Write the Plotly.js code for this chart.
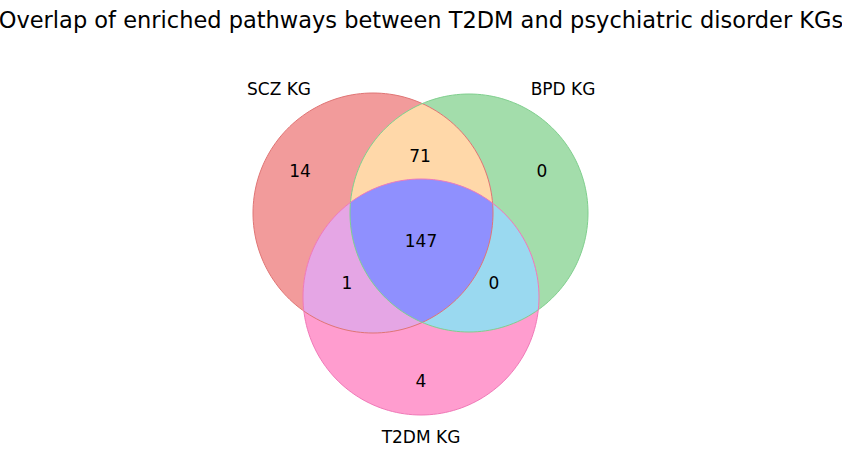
<!DOCTYPE html>
<html><head><meta charset="utf-8">
<script src="https://cdn.plot.ly/plotly-3.0.1.min.js"></script>
<style>body{margin:0;background:#fff}</style></head>
<body><div id="chart" style="width:842px;height:453px"></div>
<script>
// Data
const setNames = ["SCZ KG", "BPD KG", "T2DM KG"];
const regionKeys = ["100", "010", "110", "001", "101", "011", "111"];
const regionCounts = [14, 0, 71, 4, 1, 0, 147];

// Geometry (pixel-like layout units)
const circles = [{x:373,y:213,r:120},{x:469,y:213,r:119},{x:421,y:297,r:118}];
const fillColors = ["#f29b9b","#a3ddab","#ff9dcf"];
const edgeColors = ["#e07575","#80cf8e","#f07ab8"];
const regionColors = {"110":"#ffd8a9","101":"#e5a6e5","011":"#9ad9f0","111":"#8f90fe"};
const labelPos = {"100":[300,173],"010":[542,173],"110":[420,158],"001":[421,383],"101":[347,285],"011":[494,285],"111":[421,243]};
const setLabelPos = [[279,91],[563,91],[421,439]];

function circlePath(c){
  const n=180; let p="";
  for(let i=0;i<=n;i++){const a=2*Math.PI*i/n;p+=(i?"L":"M")+(c.x+c.r*Math.cos(a)).toFixed(2)+","+(c.y+c.r*Math.sin(a)).toFixed(2);}
  return p+"Z";
}
function intersectPath(idx){
  const pts=[];
  idx.forEach(i=>{const c=circles[i];
    for(let k=0;k<720;k++){const a=2*Math.PI*k/720;const px=c.x+c.r*Math.cos(a),py=c.y+c.r*Math.sin(a);
      if(idx.every(j=>j===i||Math.hypot(px-circles[j].x,py-circles[j].y)<=circles[j].r+1e-6))pts.push([px,py]);}});
  const mx=pts.reduce((s,p)=>s+p[0],0)/pts.length,my=pts.reduce((s,p)=>s+p[1],0)/pts.length;
  pts.sort((a,b)=>Math.atan2(a[1]-my,a[0]-mx)-Math.atan2(b[1]-my,b[0]-mx));
  return pts.map((p,i)=>(i?"L":"M")+p[0].toFixed(2)+","+p[1].toFixed(2)).join("")+"Z";
}
const shapes=[];
circles.forEach((c,i)=>shapes.push({type:"path",path:circlePath(c),fillcolor:fillColors[i],line:{width:0},layer:"below"}));
[["110",[0,1]],["101",[0,2]],["011",[1,2]],["111",[0,1,2]]].forEach(([k,idx])=>
  shapes.push({type:"path",path:intersectPath(idx),fillcolor:regionColors[k],line:{width:0},layer:"below"}));
circles.forEach((c,i)=>shapes.push({type:"path",path:circlePath(c),fillcolor:"rgba(0,0,0,0)",line:{width:1,color:edgeColors[i]},layer:"below"}));

const font={family:"DejaVu Sans",size:17,color:"#000"};
const traces=[{
  type:"scatter",mode:"text",
  x:regionKeys.map(k=>labelPos[k][0]),y:regionKeys.map(k=>labelPos[k][1]),
  text:regionCounts.map(String),textfont:font,hoverinfo:"skip"
},{
  type:"scatter",mode:"text",
  x:setLabelPos.map(p=>p[0]),y:setLabelPos.map(p=>p[1]),
  text:setNames,textfont:font,hoverinfo:"skip"
}];
const layout={
  width:842,height:453,margin:{l:0,r:0,t:0,b:0},showlegend:false,
  paper_bgcolor:"#fff",plot_bgcolor:"#fff",
  title:{text:"Overlap of enriched pathways between T2DM and psychiatric disorder KGs",x:0.5,xanchor:"center",y:0.955,yanchor:"middle",font:{family:"DejaVu Sans",size:22.5,color:"#000"}},
  xaxis:{range:[0,842],visible:false,fixedrange:true},
  yaxis:{range:[453,0],visible:false,fixedrange:true},
  shapes:shapes
};
Plotly.newPlot("chart",traces,layout,{staticPlot:true});
</script></body></html>
